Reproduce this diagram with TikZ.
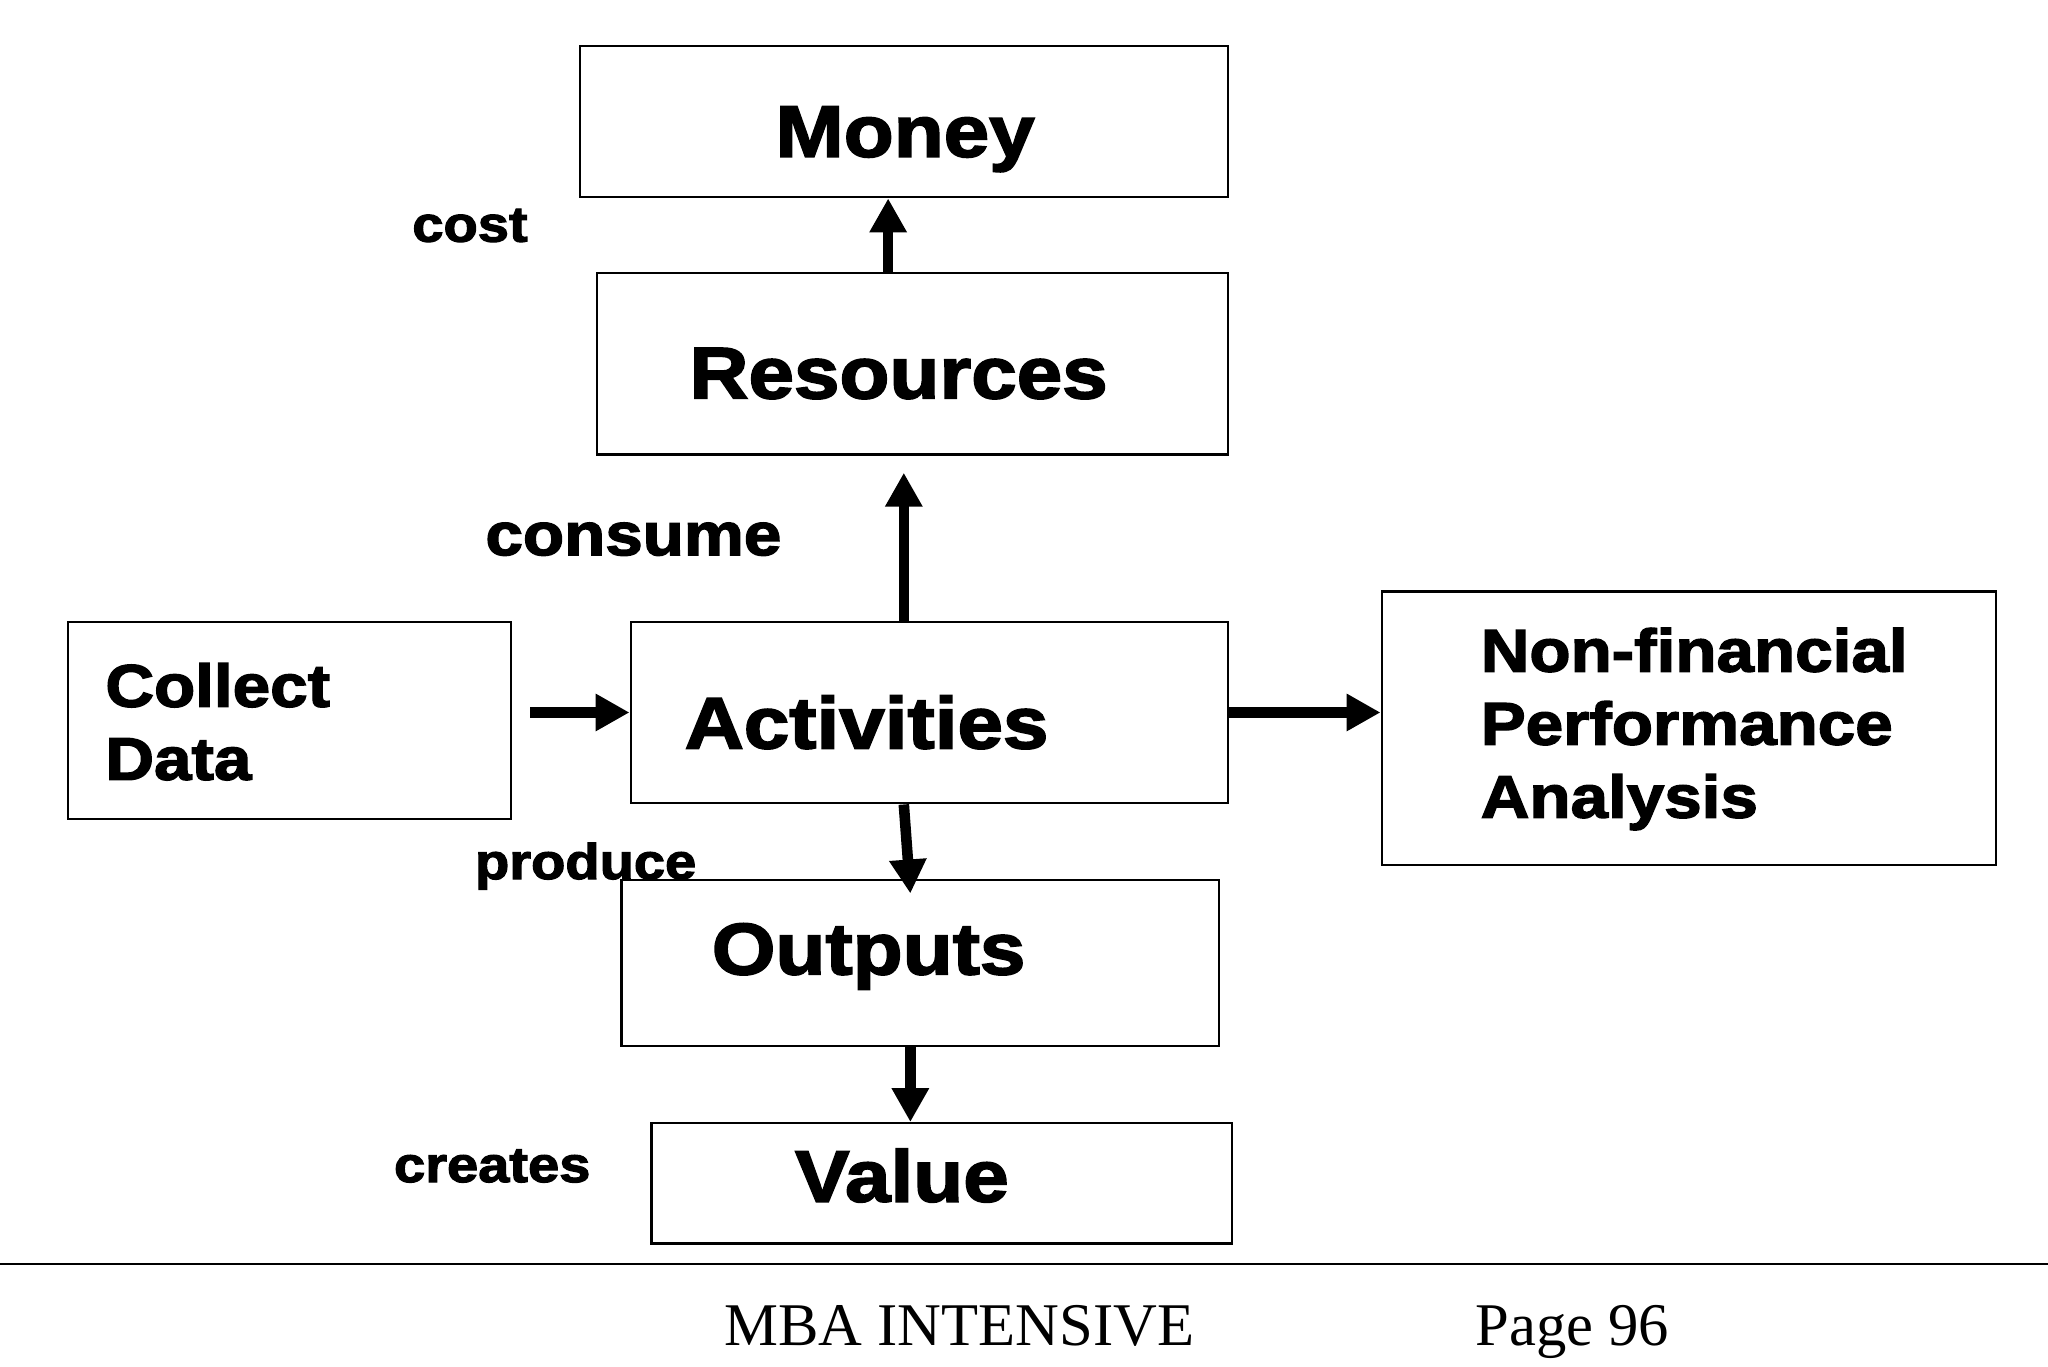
\documentclass[tikz,border=0pt]{standalone}
\usepackage{fontspec}
\usetikzlibrary{arrows.meta}
\newfontfamily\heavyfont[FakeBold=2.4,FakeStretch=1.12]{Liberation Sans Bold}
\newfontfamily\footfont{Liberation Serif}

\begin{document}
\begin{tikzpicture}[x=0.01cm,y=-0.01cm,
	box/.style={draw, line width=0.5pt, inner sep=0pt},
	arr/.style={line width=2.3pt, -{Triangle[length=0.26cm,width=0.27cm]}},
	big/.style={font=\heavyfont\fontsize{15.9}{18}\selectfont, inner sep=0pt, anchor=base},
	mid/.style={font=\heavyfont\fontsize{13.1}{15.9}\selectfont, inner sep=0pt, anchor=base west, align=left},
	verb/.style={font=\heavyfont\fontsize{10.9}{13}\selectfont, inner sep=0pt, anchor=base west}]

	\useasboundingbox (0,0) rectangle (1568,1046);

	% Money
	\node[box, minimum width=4.96cm, minimum height=1.16cm] (money) at (692,93) {};
	\node[big] (moneytxt) at (693,120) {Money};
	\node[verb] (cost) at (315,185) {cost};

	% Resources
	\node[box, minimum width=4.83cm, minimum height=1.39cm] (res) at (698.5,278.5) {};
	\node[big] (restxt) at (688,305) {Resources};
	\draw[arr] ([xshift=-0.185cm]res.north) -- ([xshift=-0.185cm]res.north |- money.south);

	% Activities
	\node[box, minimum width=4.57cm, minimum height=1.39cm] (act) at (711.5,545.5) {};
	\node[big] (acttxt) at (663.5,573) {Activities};
	\node[mid] (consume) at (371,425) {consume};
	\draw[arr, shorten >=0.13cm] ([xshift=-0.195cm]act.north) -- ([xshift=-0.195cm]act.north |- res.south);

	% Collect Data (base = last line)
	\node[box, minimum width=3.39cm, minimum height=1.51cm] (coll) at (221.5,551.5) {};
	\node[mid] (colltxt) at (80,597) {Collect\\Data};
	\draw[arr, shorten <=0.14cm] (coll.east |- act.west) -- (act.west);

	% Non-financial analysis
	\node[box, minimum width=4.70cm, minimum height=2.09cm] (nonfin) at (1293,557.5) {};
	\node[mid] (nonfintxt) at (1133,626) {Non-financial\\Performance\\Analysis};
	\draw[arr] (act.east) -- (act.east -| nonfin.west);

	% Outputs
	\node[box, minimum width=4.57cm, minimum height=1.27cm] (out) at (704.5,737.5) {};
	\node[big] (outtxt) at (665,746) {Outputs};
	\node[verb] (produce) at (363,673) {produce};
	\draw[arr] ([xshift=-0.195cm]act.south) -- ([xshift=-0.075cm,yshift=-0.11cm]out.north);

	% Value
	\node[box, minimum width=4.44cm, minimum height=0.92cm] (val) at (721,906) {};
	\node[big] (valtxt) at (690.5,920) {Value};
	\node[verb] (creates) at (301,905) {creates};
	\draw[arr] ([xshift=-0.075cm]out.south) -- ([xshift=-0.075cm]out.south |- val.north);

	% Footer
	\draw[line width=0.5pt] (0,968) -- (1568,968);
	\node[font=\footfont\fontsize{13.2}{15}\selectfont, anchor=base west, inner sep=0pt] (mba) at (554,1030) {MBA INTENSIVE};
	\node[font=\footfont\fontsize{13.2}{15}\selectfont, anchor=base west, inner sep=0pt] (page) at (1129,1030) {Page 96};

\end{tikzpicture}
\end{document}
